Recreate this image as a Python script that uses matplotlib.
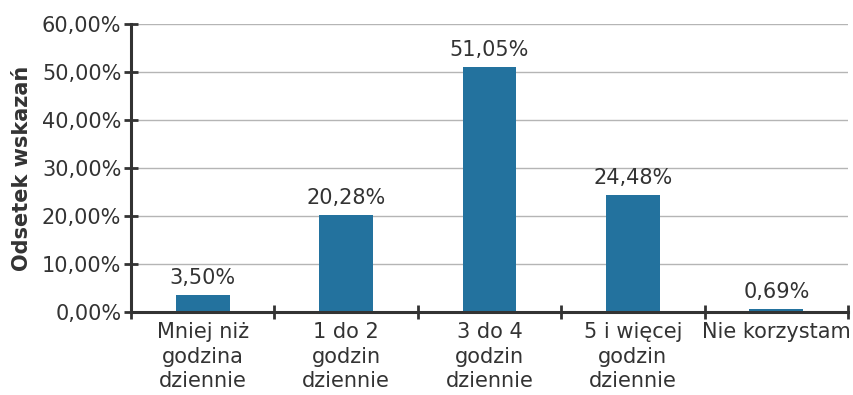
import matplotlib
matplotlib.use("Agg")
import matplotlib.pyplot as plt
from matplotlib.ticker import FuncFormatter, MultipleLocator

categories = ["Mniej niż\ngodzina\ndziennie", "1 do 2\ngodzin\ndziennie",
              "3 do 4\ngodzin\ndziennie", "5 i więcej\ngodzin\ndziennie",
              "Nie korzystam"]
values = [3.50, 20.28, 51.05, 24.48, 0.69]
y_label = "Odsetek wskazań"

bar_color = "#23729e"
text_color = "#333333"
axis_color = "#333333"
fs = 15

plt.rcParams["font.family"] = ["DejaVu Sans"]

fig = plt.figure(figsize=(8.54, 3.95), dpi=100)
ax = fig.add_axes([0.1534, 0.2101, 0.8396, 0.7291])

x = list(range(len(categories)))
bars = ax.bar(x, values, width=0.376, color=bar_color, zorder=3)

ax.set_xlim(-0.5, len(categories) - 0.5)
ax.set_ylim(0, 60)
ax.yaxis.set_major_locator(MultipleLocator(10))
ax.yaxis.set_major_formatter(FuncFormatter(lambda v, p: f"{v:.2f}%".replace(".", ",")))
ax.grid(axis="y", color="#b5b5b5", linewidth=1.0, zorder=0)

# category labels centred under bars, tick marks at the category boundaries
ax.set_xticks(x)
ax.set_xticklabels(categories, linespacing=1.3)
ax.tick_params(axis="x", which="major", length=0, pad=7,
               labelsize=fs, labelcolor=text_color)
ax.set_xticks([i - 0.5 for i in range(len(categories) + 1)], minor=True)
ax.tick_params(axis="x", which="minor", length=10, width=2,
               direction="inout", color=axis_color)
ax.tick_params(axis="y", length=10, width=2, direction="inout",
               color=axis_color, labelsize=fs, labelcolor=text_color, pad=2)

for side in ("top", "right"):
    ax.spines[side].set_visible(False)
for side in ("left", "bottom"):
    ax.spines[side].set_color(axis_color)
    ax.spines[side].set_linewidth(2.2)
    ax.spines[side].set_zorder(4)

for b, v in zip(bars, values):
    ax.annotate(f"{v:.2f}%".replace(".", ","),
                (b.get_x() + b.get_width() / 2, v),
                xytext=(0, 5), textcoords="offset points",
                ha="center", va="bottom", fontsize=fs, color=text_color)

ax.set_ylabel(y_label, fontsize=fs, fontweight="bold", color=text_color, labelpad=7)

fig.savefig("out.png", dpi=100)
